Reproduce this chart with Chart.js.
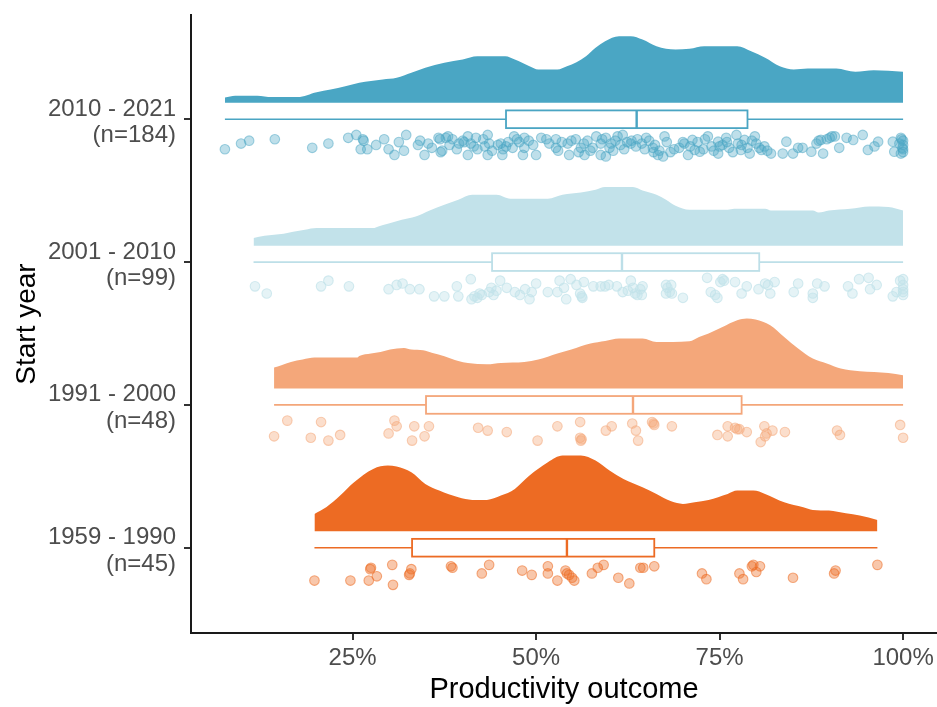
<!DOCTYPE html>
<html>
<head>
<meta charset="utf-8">
<script src="https://cdn.jsdelivr.net/npm/chart.js@4.4.0/dist/chart.umd.min.js"></script>
<style>
  html, body { margin: 0; padding: 0; background: #ffffff; }
  #wrap { width: 937px; height: 707px; }
</style>
</head>
<body>
<div id="wrap"><canvas id="chart" width="937" height="707"></canvas></div>
<script>
// Start-year groups, bottom to top
const categories = ['1959 - 1990', '1991 - 2000', '2001 - 2010', '2010 - 2021'];
const sampleSizes = [45, 48, 99, 184];
const xTickValues = [25, 50, 75, 100];

// Boxplot summaries (percent): min, Q1, median, Q3, max
const box1959 = [19.8, 33.1, 54.2, 66.1, 96.5];
const box1991 = [14.3, 35.0, 63.2, 78.0, 100];
const box2001 = [11.5, 44.0, 61.7, 80.4, 100];
const box2010 = [7.6, 45.9, 63.7, 78.8, 100];

// Half-violin density profiles: [outcome %, density height in axis units]
const density1959 = [[19.8,0.122],[21.4,0.168],[23.3,0.250],[25.2,0.343],[27.8,0.437],[29.8,0.460],[31.0,0.453],[33.0,0.413],[34.9,0.332],[36.8,0.285],[39.4,0.238],[41.3,0.220],[43.3,0.220],[45.2,0.250],[47.1,0.297],[49.1,0.390],[51.6,0.483],[53.6,0.530],[56.1,0.530],[58.1,0.495],[60.0,0.425],[61.9,0.367],[64.5,0.308],[66.4,0.262],[68.4,0.210],[70.0,0.192],[71.6,0.203],[73.5,0.220],[76.1,0.262],[77.4,0.285],[79.6,0.285],[81.2,0.262],[83.8,0.203],[86.4,0.168],[87.7,0.150],[89.9,0.145],[92.2,0.126],[94.1,0.110],[96.5,0.080]];
const density1991 = [[14.3,0.147],[15.3,0.163],[16.6,0.186],[18.2,0.203],[19.8,0.217],[25.6,0.217],[25.9,0.228],[27.5,0.245],[28.8,0.256],[30.1,0.273],[32.0,0.284],[33.0,0.273],[34.6,0.268],[35.9,0.249],[37.5,0.226],[39.4,0.193],[40.7,0.179],[43.3,0.170],[45.2,0.179],[48.4,0.186],[50.3,0.203],[52.9,0.245],[54.8,0.273],[57.4,0.315],[59.4,0.333],[61.3,0.350],[64.5,0.350],[66.4,0.326],[70.9,0.331],[72.2,0.361],[73.5,0.385],[75.4,0.431],[77.4,0.478],[78.7,0.490],[79.9,0.483],[81.9,0.443],[83.8,0.361],[85.7,0.280],[87.7,0.210],[89.6,0.175],[91.5,0.140],[94.1,0.121],[98.0,0.109],[100,0.093]];
const density2001 = [[11.5,0.054],[13.0,0.070],[15.6,0.084],[16.9,0.098],[18.5,0.112],[20.1,0.124],[27.8,0.124],[28.5,0.135],[29.8,0.154],[31.7,0.182],[33.6,0.205],[35.5,0.247],[37.5,0.287],[39.4,0.322],[41.3,0.357],[44.6,0.357],[46.5,0.329],[51.6,0.329],[53.6,0.357],[56.1,0.373],[58.1,0.392],[59.4,0.411],[63.2,0.411],[64.5,0.387],[66.4,0.357],[67.7,0.322],[69.0,0.280],[70.9,0.252],[76.1,0.252],[77.0,0.259],[81.2,0.259],[82.0,0.247],[87.7,0.247],[88.5,0.233],[89.9,0.247],[92.8,0.259],[95.4,0.275],[98.0,0.271],[100,0.247]];
const density2010 = [[7.6,0.038],[9.0,0.050],[12.0,0.050],[14.0,0.040],[17.5,0.040],[20.1,0.074],[22.0,0.093],[24.0,0.116],[25.9,0.140],[29.1,0.163],[31.0,0.175],[33.0,0.210],[34.9,0.245],[37.5,0.280],[40.0,0.303],[42.0,0.326],[45.8,0.326],[47.1,0.303],[49.1,0.256],[50.3,0.233],[52.9,0.233],[54.2,0.256],[55.5,0.284],[56.8,0.326],[58.1,0.385],[59.4,0.431],[61.3,0.466],[62.9,0.466],[64.5,0.443],[66.4,0.396],[69.0,0.373],[70.9,0.378],[72.9,0.396],[77.4,0.396],[79.3,0.361],[81.2,0.315],[83.2,0.256],[85.1,0.233],[87.0,0.240],[90.9,0.240],[93.5,0.217],[96.0,0.228],[100,0.217]];

// Individual productivity outcomes (%) and their vertical jitter below each group
const values1959 = [19.8,24.7,27.2,27.5,28.3,30.4,30.5,32.7,33.0,32.8,38.6,42.6,43.6,48.1,49.4,51.6,51.6,52.9,54.0,54.5,54.9,55.2,57.6,58.4,59.2,61.2,62.7,64.2,64.6,66.1,72.6,73.2,77.7,78.2,79.6,80.0,80.5,85.0,90.6,90.8,96.5,27.4,38.4,54.2,79.4];
const jitter1959 = [-0.23,-0.23,-0.23,-0.14,-0.20,-0.12,-0.26,-0.19,-0.15,-0.18,-0.14,-0.18,-0.12,-0.16,-0.19,-0.13,-0.18,-0.23,-0.16,-0.19,-0.21,-0.23,-0.18,-0.14,-0.12,-0.21,-0.25,-0.14,-0.14,-0.13,-0.18,-0.22,-0.18,-0.22,-0.12,-0.17,-0.13,-0.21,-0.18,-0.16,-0.12,-0.15,-0.13,-0.18,-0.13];

const values1991 = [16.1,20.7,14.3,19.3,21.7,23.3,30.7,31.0,29.9,33.4,35.4,33.1,34.8,42.1,43.4,46.0,50.2,52.9,56.0,56.0,56.1,59.5,60.3,63.1,63.6,63.9,65.8,66.1,68.5,76.1,74.7,76.1,77.1,77.7,78.7,80.6,81.1,81.4,82.2,83.9,91.0,91.4,99.6,100,81.2,77.4,56.2,66.0];
const jitter1991 = [-0.11,-0.12,-0.22,-0.23,-0.25,-0.21,-0.11,-0.15,-0.20,-0.15,-0.15,-0.25,-0.22,-0.16,-0.18,-0.19,-0.25,-0.15,-0.12,-0.23,-0.25,-0.18,-0.15,-0.13,-0.18,-0.25,-0.12,-0.14,-0.15,-0.15,-0.21,-0.22,-0.16,-0.17,-0.19,-0.26,-0.15,-0.20,-0.18,-0.19,-0.18,-0.21,-0.14,-0.23,-0.22,-0.17,-0.24,-0.13];

const values2001 = [11.7,13.3,20.7,21.7,24.5,29.9,31.0,31.8,32.8,34.1,36.1,37.5,39.2,39.4,41.1,41.2,42.0,42.6,43.6,44.2,43.9,45.1,46.0,47.1,47.8,49.1,50.0,49.4,51.6,52.9,53.2,54.1,54.7,55.5,56.0,56.3,56.5,57.8,58.8,59.4,61.0,61.8,62.9,63.2,63.5,64.4,64.5,67.7,68.4,67.7,68.5,70.0,73.3,73.8,74.7,75.1,75.4,77.1,78.0,78.7,80.3,81.2,81.9,82.5,85.1,85.7,87.7,87.7,88.3,89.3,92.5,93.1,94.0,95.3,95.5,96.4,98.6,100,100,100,100,99.1,41.6,42.3,44.6,48.5,53.8,56.2,59.9,62.5,63.8,64.2,67.9,68.2,75.6,74.4,81.6,99.6,100];
const jitter2001 = [-0.17,-0.22,-0.17,-0.13,-0.17,-0.19,-0.16,-0.15,-0.19,-0.19,-0.24,-0.24,-0.17,-0.24,-0.12,-0.26,-0.25,-0.23,-0.21,-0.23,-0.18,-0.13,-0.18,-0.21,-0.23,-0.26,-0.15,-0.21,-0.21,-0.21,-0.13,-0.26,-0.12,-0.16,-0.22,-0.25,-0.14,-0.17,-0.17,-0.17,-0.17,-0.21,-0.13,-0.18,-0.22,-0.23,-0.17,-0.16,-0.16,-0.22,-0.22,-0.25,-0.11,-0.21,-0.25,-0.14,-0.12,-0.14,-0.22,-0.17,-0.19,-0.15,-0.22,-0.14,-0.21,-0.15,-0.22,-0.25,-0.15,-0.17,-0.17,-0.22,-0.12,-0.11,-0.19,-0.16,-0.24,-0.12,-0.16,-0.19,-0.23,-0.21,-0.24,-0.22,-0.20,-0.19,-0.18,-0.24,-0.16,-0.20,-0.23,-0.19,-0.18,-0.21,-0.13,-0.23,-0.16,-0.13,-0.21];

const values2010 = [7.6,9.8,10.9,14.4,19.5,21.7,24.4,25.5,26.4,26.1,27.0,29.3,29.9,30.7,32.0,32.3,33.9,34.2,35.3,34.8,36.7,37.0,37.7,26.5,36.9,37.2,
  38.0,40.7,43.4,47.0,48.4,50.7,51.4,52.7,55.4,58.2,59.5,61.1,61.8,63.8,65.0,67.5,
  38.2,40.2,41.1,42.0,43.6,45.2,45.9,47.7,48.4,52.7,54.3,56.1,57.7,58.8,60.2,62.0,62.9,65.9,68.8,
  40.7,43.4,45.4,48.2,50.0,54.5,56.6,58.8,59.5,66.6,67.3,
  40.0,41.5,44.8,45.5,46.2,44.0,60.8,61.5,60.0,63.0,63.6,64.4,66.0,66.8,42.8,49.0,53.5,57.0,55.8,39.2,
  69.5,70.2,70.7,71.3,71.6,72.3,73.4,73.9,74.8,74.8,75.4,75.9,76.3,77.3,77.5,77.9,78.4,79.1,79.8,80.0,80.7,81.1,82.0,83.6,84.1,85.0,85.7,86.3,87.5,88.2,88.8,89.1,90.0,90.7,91.3,92.3,93.2,94.5,95.2,96.1,96.6,98.6,98.8,99.7,99.9,99.7,
  70.0,71.0,72.0,72.8,73.0,74.2,75.0,76.0,76.8,78.0,78.8,79.4,80.4,81.5,89.6,88.5,90.3,100,100,100,100,99.5,99.8,
  38.6,39.5,41.8,43.0,46.8,47.4,49.6,51.8,53.0,54.8,56.5,57.4,59.0,60.5,62.4,64.8,65.4,66.2,67.8,68.3,31.3,28.2,35.8];
const jitter2010 = [-0.21,-0.17,-0.15,-0.14,-0.20,-0.17,-0.13,-0.11,-0.14,-0.21,-0.21,-0.14,-0.21,-0.25,-0.22,-0.11,-0.18,-0.15,-0.17,-0.25,-0.13,-0.23,-0.13,-0.15,-0.14,-0.22,
  -0.12,-0.12,-0.11,-0.12,-0.13,-0.13,-0.14,-0.14,-0.14,-0.12,-0.13,-0.12,-0.11,-0.14,-0.13,-0.12,
  -0.18,-0.16,-0.17,-0.21,-0.17,-0.17,-0.19,-0.16,-0.20,-0.20,-0.17,-0.20,-0.20,-0.17,-0.17,-0.21,-0.17,-0.20,-0.21,
  -0.25,-0.25,-0.25,-0.25,-0.25,-0.25,-0.25,-0.25,-0.26,-0.25,-0.26,
  -0.15,-0.19,-0.18,-0.21,-0.16,-0.22,-0.15,-0.18,-0.20,-0.15,-0.19,-0.17,-0.23,-0.22,-0.14,-0.15,-0.16,-0.15,-0.23,-0.21,
  -0.20,-0.17,-0.25,-0.145,-0.215,-0.227,-0.12,-0.19,-0.157,-0.24,-0.18,-0.13,-0.20,-0.11,-0.17,-0.215,-0.145,-0.24,-0.12,-0.17,-0.215,-0.19,-0.24,-0.24,-0.157,-0.24,-0.20,-0.20,-0.227,-0.17,-0.145,-0.24,-0.13,-0.12,-0.20,-0.13,-0.145,-0.11,-0.215,-0.19,-0.157,-0.157,-0.227,-0.13,-0.20,-0.24,
  -0.16,-0.19,-0.16,-0.21,-0.14,-0.22,-0.19,-0.16,-0.23,-0.18,-0.20,-0.15,-0.20,-0.22,-0.14,-0.15,-0.12,-0.15,-0.18,-0.21,-0.23,-0.17,-0.14,
  -0.14,-0.17,-0.13,-0.19,-0.20,-0.14,-0.18,-0.17,-0.22,-0.15,-0.17,-0.22,-0.14,-0.22,-0.16,-0.21,-0.15,-0.18,-0.16,-0.23,-0.16,-0.18,-0.20];

// ---- styling ----
const groupColors = [[237,107,35],[244,167,122],[194,226,234],[74,166,196]];
const boxLineColors = ['#EC6B24', '#F4A67A', '#BDDFE8', '#4AA5C3'];
const pointFillAlpha = [0.38, 0.38, 0.42, 0.36];
const pointLineAlpha = [0.55, 0.55, 0.7, 0.5];
const DENSITY_BASE = 0.115;   // gap between box centre and violin baseline (axis units)
const BOX_HALF = 0.062;       // half height of the box (axis units)

const rgba = (c, a) => `rgba(${c[0]},${c[1]},${c[2]},${a})`;

const groupData = [
  { box: box1959, dens: density1959, vals: values1959, jit: jitter1959 },
  { box: box1991, dens: density1991, vals: values1991, jit: jitter1991 },
  { box: box2001, dens: density2001, vals: values2001, jit: jitter2001 },
  { box: box2010, dens: density2010, vals: values2010, jit: jitter2010 }
];

const datasets = [];
groupData.forEach((g, i) => {
  const pos = i + 1;
  const col = groupColors[i];
  datasets.push({
    type: 'line',
    label: categories[i] + ' density',
    data: g.dens.map(([x, h]) => ({ x: x, y: pos + DENSITY_BASE + h })),
    fill: { value: pos + DENSITY_BASE },
    backgroundColor: rgba(col, 1),
    borderColor: rgba(col, 1),
    borderWidth: 0,
    pointRadius: 0,
    cubicInterpolationMode: 'monotone',
    order: 2
  });
  datasets.push({
    type: 'scatter',
    label: categories[i] + ' points',
    data: g.vals.map((v, k) => ({ x: v, y: pos + g.jit[k] })),
    pointRadius: 4.8,
    pointHoverRadius: 4.8,
    backgroundColor: rgba(col, pointFillAlpha[i]),
    borderColor: rgba(col, pointLineAlpha[i]),
    borderWidth: 1.1,
    order: 1
  });
});

// Boxplots drawn through the chart's own scales
const boxPlugin = {
  id: 'rainBoxes',
  afterDatasetsDraw(chart) {
    const { ctx, scales } = chart;
    const xs = scales.x, ys = scales.y;
    groupData.forEach((g, i) => {
      const pos = i + 1;
      const yc = ys.getPixelForValue(pos);
      const half = Math.abs(ys.getPixelForValue(pos + BOX_HALF) - yc);
      const [mn, q1, md, q3, mx] = g.box.map(v => xs.getPixelForValue(v));
      ctx.save();
      ctx.strokeStyle = boxLineColors[i];
      ctx.lineWidth = 1.6;
      ctx.beginPath();
      ctx.moveTo(mn, yc); ctx.lineTo(q1, yc);
      ctx.moveTo(q3, yc); ctx.lineTo(mx, yc);
      ctx.stroke();
      ctx.fillStyle = '#ffffff';
      ctx.fillRect(q1, yc - half, q3 - q1, 2 * half);
      ctx.lineWidth = 1.8;
      ctx.strokeRect(q1, yc - half, q3 - q1, 2 * half);
      ctx.lineWidth = 2.4;
      ctx.beginPath();
      ctx.moveTo(md, yc - half); ctx.lineTo(md, yc + half);
      ctx.stroke();
      ctx.restore();
    });
  }
};

const FONT = "'Liberation Sans', Arial, Helvetica, sans-serif";

new Chart(document.getElementById('chart'), {
  type: 'scatter',
  data: { datasets: datasets },
  plugins: [boxPlugin],
  options: {
    responsive: false,
    animation: false,
    devicePixelRatio: 1,
    layout: { autoPadding: false, padding: { top: 15, right: 0, bottom: 0, left: 0 } },
    plugins: { legend: { display: false }, tooltip: { enabled: false } },
    scales: {
      x: {
        type: 'linear',
        min: 2.98,
        max: 104.62,
        afterBuildTicks: s => { s.ticks = xTickValues.map(v => ({ value: v })); },
        afterFit: s => { s.height = 74; s.paddingLeft = 0; s.paddingRight = 0; },
        ticks: {
          callback: v => v + '%',
          color: '#4D4D4D',
          font: { family: FONT, size: 24 },
          padding: 4,
          maxRotation: 0
        },
        grid: { display: true, drawOnChartArea: false, drawTicks: true, tickLength: 7, color: '#333333', lineWidth: 2 },
        border: { display: true, color: '#1a1a1a', width: 2 },
        title: {
          display: true,
          text: 'Productivity outcome',
          color: '#000000',
          font: { family: FONT, size: 29 },
          padding: { top: 0, bottom: 0 }
        }
      },
      y: {
        type: 'linear',
        min: 0.403,
        max: 4.73,
        afterBuildTicks: s => { s.ticks = [1, 2, 3, 4].map(v => ({ value: v })); },
        afterFit: s => { s.width = 191; s.paddingTop = 0; s.paddingBottom = 0; },
        ticks: {
          callback: v => [categories[v - 1], '(n=' + sampleSizes[v - 1] + ')'],
          color: '#4D4D4D',
          font: { family: FONT, size: 24, lineHeight: 1.1 },
          padding: 8,
          labelOffset: 3
        },
        grid: { display: true, drawOnChartArea: false, drawTicks: true, tickLength: 7, color: '#333333', lineWidth: 2 },
        border: { display: true, color: '#1a1a1a', width: 2 },
        title: {
          display: true,
          text: 'Start year',
          color: '#000000',
          font: { family: FONT, size: 28 },
          padding: { top: 10, bottom: 0 }
        }
      }
    }
  }
});
</script>
</body>
</html>
